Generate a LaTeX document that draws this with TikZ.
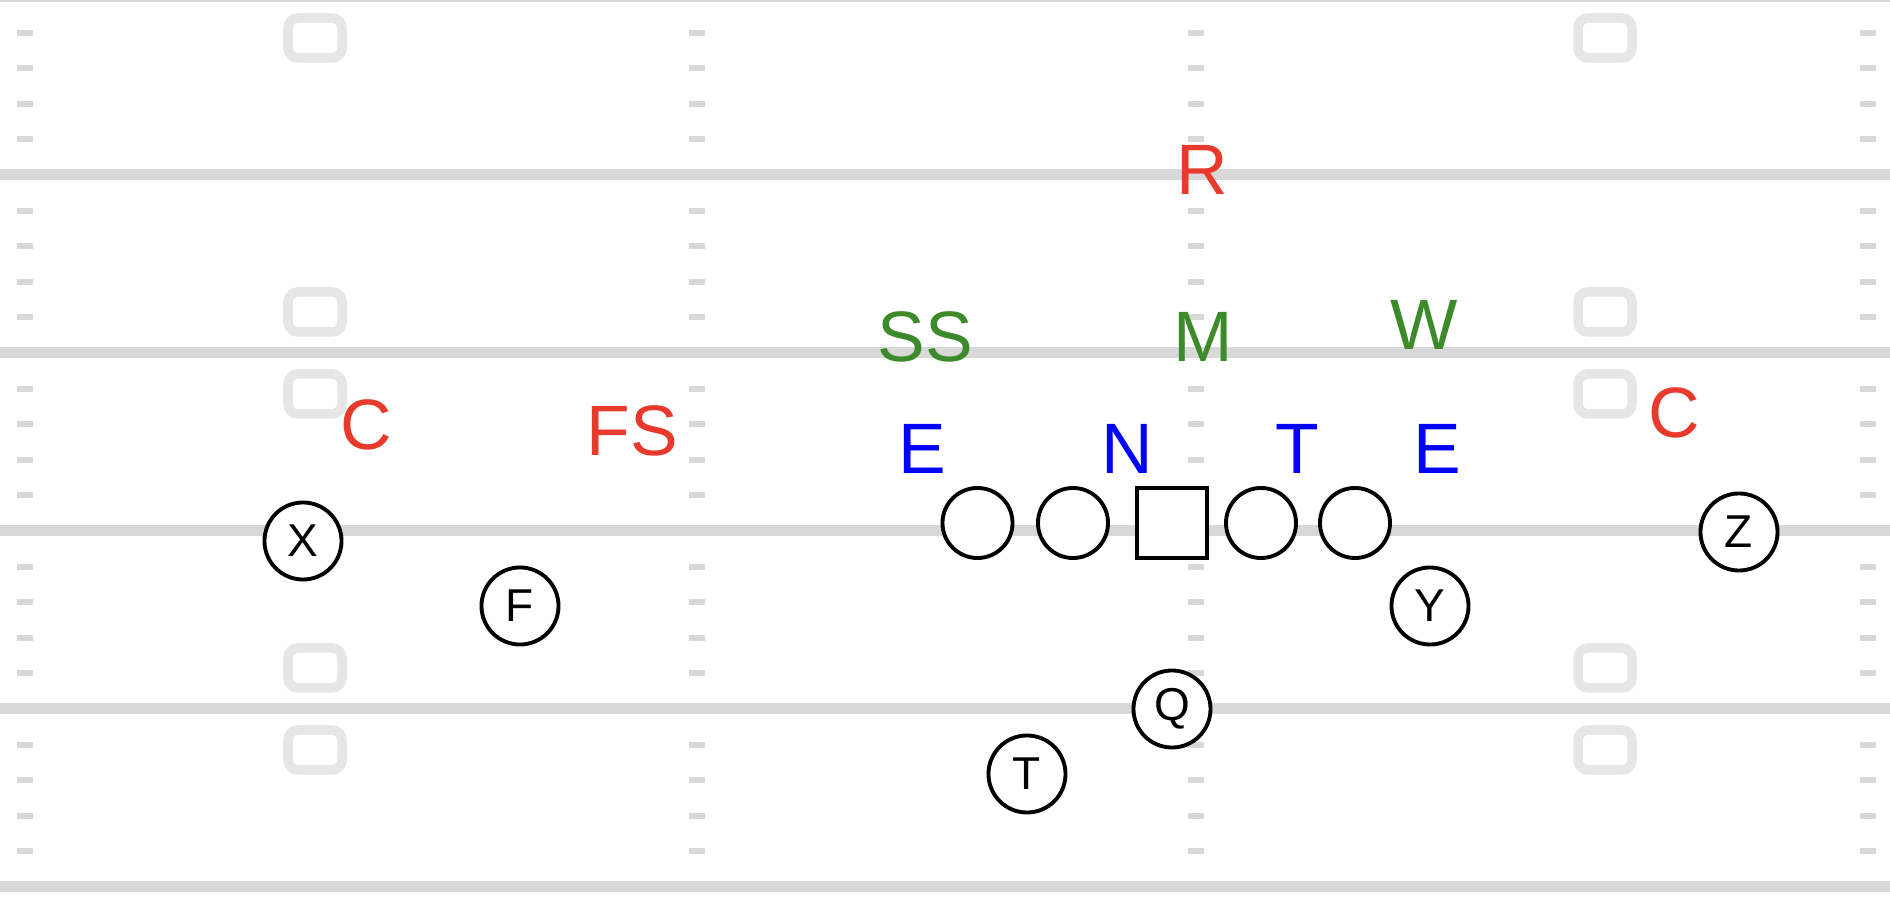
\documentclass[tikz,border=0pt]{standalone}
\usepackage{fontspec}
\setmainfont{Liberation Sans}
\definecolor{fieldline}{HTML}{D8D8D8}
\definecolor{yardnum}{HTML}{E6E6E6}
\definecolor{dbred}{HTML}{E83A2C}
\definecolor{lbgreen}{HTML}{3C8A2A}
\definecolor{dlblue}{HTML}{0000FF}
\newcommand{\posfont}{\fontsize{20.3}{24}\selectfont}
\newcommand{\offfont}{\fontsize{13.1}{16}\selectfont}

\begin{document}
\begin{tikzpicture}[x=0.01cm,y=-0.01cm,
    player/.style={draw,fill=white,circle,line width=1.1pt,minimum size=0.77cm,inner sep=0pt,font=\offfont},
    lineman/.style={draw,fill=white,circle,line width=1.1pt,minimum size=0.70cm,inner sep=0pt},
    snapbox/.style={draw,fill=white,rectangle,line width=1.1pt,minimum size=0.70cm,inner sep=0pt},
    dback/.style={text=dbred,font=\posfont,inner sep=0pt},
    backer/.style={text=lbgreen,font=\posfont,inner sep=0pt},
    dline/.style={text=dlblue,font=\posfont,inner sep=0pt}]
    \useasboundingbox (0,0) rectangle (1890,898);
    \fill[white] (0,0) rectangle (1890,898);

    % field
    \foreach \y in {-3,175,353,531,709,887}
        \draw[fieldline,line width=0.11cm] (0,\y) -- (1890,\y);
    \foreach \y in {-3,175,353,531,709}
      \foreach \k in {1,...,4}
        \foreach \x in {24.5,697,1196,1868}
          \fill[fieldline] ({\x-8},{\y+35.6*\k-3}) rectangle ++(16,6);
    \foreach \x in {315,1605}
      \foreach \y in {38,312,394,668,750}
        \draw[yardnum,line width=0.095cm,rounded corners=0.1cm] ({\x-27},{\y-20}) rectangle ++(54,40);

    % offense
    \node[lineman] (lt) at (977.5,523) {};
    \node[lineman] (lg) at (1073,523) {};
    \node[snapbox] (ctr) at (1172,523) {};
    \node[lineman] (rg) at (1261,523) {};
    \node[lineman] (rt) at (1355,523) {};
    \node[player] (pX) at (303,541) {X};
    \node[player] (pF) at (520,606) {F};
    \node[player] (pY) at (1430,606) {Y};
    \node[player] (pZ) at (1739,532) {Z};
    \node[player] (pQ) at (1172,709) {Q};
    \node[player] (pT) at (1027,774) {T};

    % defense
    \node[dback] (dR) at (1202,170) {R};
    \node[backer] (dSS) at (925,337) {SS};
    \node[backer] (dM) at (1203,337) {M};
    \node[backer] (dW) at (1424,325) {W};
    \node[dback] (dCL) at (366,425) {C};
    \node[dback] (dFS) at (632,431) {FS};
    \node[dback] (dCR) at (1674,413) {C};
    \node[dline] (dEL) at (922,449) {E};
    \node[dline] (dN) at (1127,449) {N};
    \node[dline] (dT) at (1297,449) {T};
    \node[dline] (dER) at (1437,449) {E};
\end{tikzpicture}
\end{document}
